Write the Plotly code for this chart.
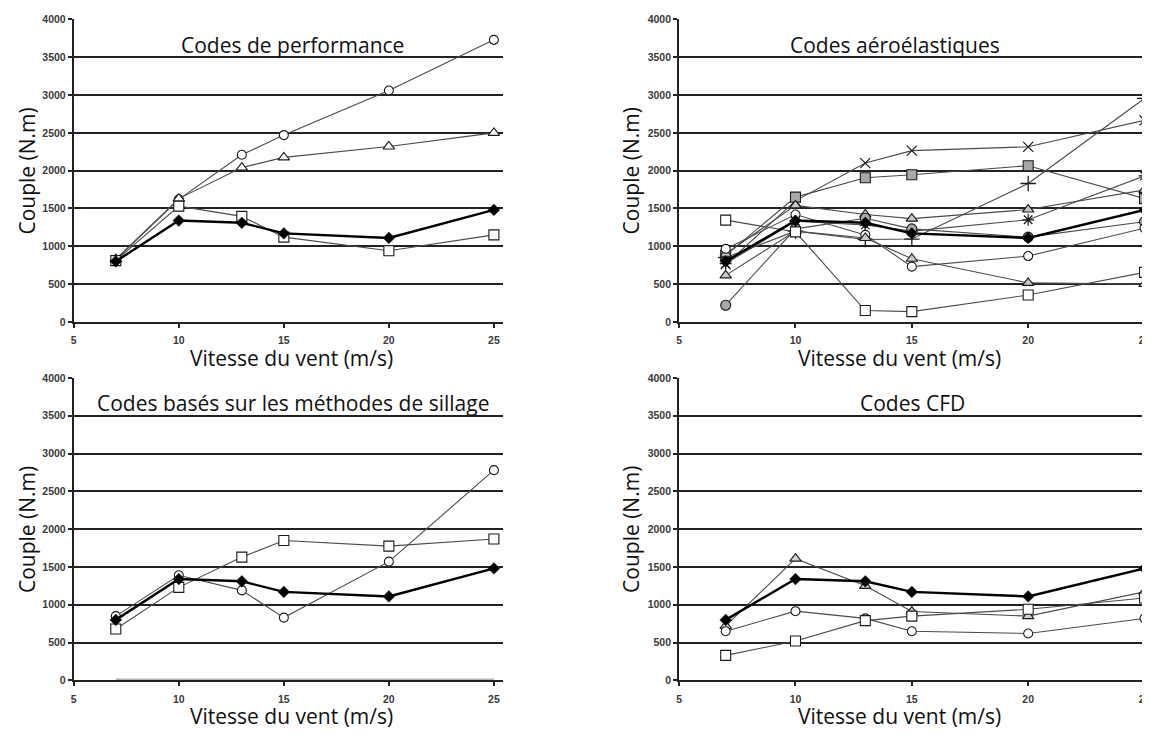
import plotly.graph_objects as go

# ---------------- data ----------------
wind = [7, 10, 13, 15, 20, 25]
tick_x = [5, 10, 15, 20, 25]
tick_y = [0, 500, 1000, 1500, 2000, 2500, 3000, 3500, 4000]

measured = [800, 1340, 1310, 1170, 1110, 1480]

# Codes de performance
perf_circle = [820, 1620, 2210, 2470, 3060, 3730]
perf_triangle = [830, 1630, 2040, 2175, 2320, 2500]
perf_square = [810, 1530, 1395, 1120, 940, 1150]

# Codes aéroélastiques
aero_x = [760, 1600, 2100, 2265, 2315, 2665]
aero_gray_square = [880, 1650, 1905, 1945, 2065, 1630]
aero_plus = [850, 1200, 1090, 1095, 1830, 2955]
aero_star = [770, 1330, 1280, 1200, 1350, 1930]
aero_triangle_high = [900, 1540, 1420, 1365, 1485, 1745]
aero_gray_circle = [220, 1230, 1370, 1230, 1120, 1325]
aero_circle = [965, 1420, 1150, 730, 870, 1240]
aero_triangle_low = [615, 1200, 1110, 835, 515, 500]
aero_square = [1345, 1190, 150, 135, 355, 655]

# Codes basés sur les méthodes de sillage
wake_circle = [850, 1390, 1190, 830, 1570, 2780]
wake_square = [680, 1230, 1630, 1850, 1775, 1870]
wake_zero = [12, 12, 12, 12, 12, 12]

# Codes CFD
cfd_triangle = [720, 1610, 1250, 910, 850, 1170]
cfd_circle = [650, 915, 820, 650, 620, 820]
cfd_square = [330, 520, 790, 850, 940, 1090]

panel_titles = ["Codes de performance", "Codes aéroélastiques",
                "Codes basés sur les méthodes de sillage", "Codes CFD"]
x_title = "Vitesse du vent (m/s)"
y_title = "Couple (N.m)"

# ---------------- layout geometry (page pixels) ----------------
OFF = 8                      # default page body margin
W, H = 1150 - OFF, 738 - OFF  # figure size so the page fits the window

LEFT = dict(x0=71.0, per_unit=21.08, x1=502.0)
RIGHT = dict(x0=678.5, per_unit=23.35, x1=1150.0)
TOP = dict(y4000=13.5, y0=321.0)
BOT = dict(y4000=378.0, y0=685.5)

def px_x(p):
    return (p - OFF) / W

def px_y(p):
    return (H - (p - OFF)) / H

panels = [
    dict(h=LEFT, v=TOP, title_x=290, title_y=40, xt_x=289, xt_y=358, yt_x=24),
    dict(h=RIGHT, v=TOP, title_x=895, title_y=40, xt_x=900, xt_y=358, yt_x=630),
    dict(h=LEFT, v=BOT, title_x=291, title_y=403, xt_x=289, xt_y=722, yt_x=24),
    dict(h=RIGHT, v=BOT, title_x=913, title_y=403, xt_x=900, xt_y=722, yt_x=630),
]

fig = go.Figure()

LINE_COL = "#4a4a4a"
EDGE = "#1a1a1a"

def add_series(k, ys, symbol, fill="white", size=9, lw=1.1, lcol=LINE_COL,
               mlw=1.1, mode="lines+markers"):
    xa = "x" if k == 1 else f"x{k}"
    ya = "y" if k == 1 else f"y{k}"
    fig.add_trace(go.Scatter(
        x=wind, y=ys, xaxis=xa, yaxis=ya, mode=mode,
        line=dict(color=lcol, width=lw),
        marker=dict(symbol=symbol, size=size, color=fill,
                    line=dict(color=EDGE, width=mlw)),
        showlegend=False, hoverinfo="skip"))

def add_measured(k):
    add_series(k, measured, "diamond", fill="#000000", size=9, lw=2.4,
               lcol="#000000", mlw=0.5)

# Panel 1
add_series(1, perf_circle, "circle", size=9)
add_series(1, perf_triangle, "triangle-up", size=10)
add_series(1, perf_square, "square", size=10)
add_measured(1)

# Panel 2
add_series(2, aero_x, "x-thin", size=10, mlw=1.2)
add_series(2, aero_gray_square, "square", fill="#a8a8a8", size=10)
add_series(2, aero_plus, "cross-thin", size=11, mlw=1.3)
add_series(2, aero_star, "asterisk", size=10, mlw=1.2)
add_series(2, aero_triangle_high, "triangle-up", fill="#c8c8c8", size=10)
add_series(2, aero_gray_circle, "circle", fill="#a8a8a8", size=10)
add_series(2, aero_circle, "circle", size=9)
add_series(2, aero_triangle_low, "triangle-up", fill="#c8c8c8", size=10)
add_series(2, aero_square, "square", size=10)
add_measured(2)

# Panel 3
add_series(3, wake_zero, "circle", size=1, lw=2, lcol="#b4b4b4", mode="lines")
add_series(3, wake_square, "square", size=10)
add_series(3, wake_circle, "circle", size=9)
add_measured(3)

# Panel 4
add_series(4, cfd_triangle, "triangle-up", fill="#d0d0d0", size=10)
add_series(4, cfd_circle, "circle", size=9)
add_series(4, cfd_square, "square", size=10)
add_measured(4)

tick_font = dict(family="Liberation Sans, Arial, sans-serif", size=10.5,
                 color="#3a3a3a", weight="bold")
title_font = dict(family="Open Sans, sans-serif", size=21, color="#111111")

layout = dict(width=W, height=H, margin=dict(l=0, r=0, t=0, b=0),
              paper_bgcolor="white", plot_bgcolor="white", showlegend=False)

annotations = []
for i, p in enumerate(panels):
    k = i + 1
    sx = "" if k == 1 else str(k)
    h, v = p["h"], p["v"]
    xmax = 5 + (h["x1"] - h["x0"]) / h["per_unit"]
    layout[f"xaxis{sx}"] = dict(
        domain=[px_x(h["x0"]), min(1.0, px_x(h["x1"]))], range=[5, xmax],
        anchor=f"y{sx}",
        tickvals=tick_x, ticktext=[str(t) for t in tick_x],
        showline=True, linecolor="#222222", linewidth=2,
        ticks="outside", ticklen=4, tickwidth=1.5, tickcolor="#222222",
        showgrid=False, zeroline=False, tickfont=tick_font,
        ticklabelstandoff=4, ticklabeloverflow="allow", fixedrange=True)
    layout[f"yaxis{sx}"] = dict(
        domain=[px_y(v["y0"]), px_y(v["y4000"])], range=[0, 4000],
        anchor=f"x{sx}",
        tickvals=tick_y, ticktext=[str(t) for t in tick_y],
        showline=True, linecolor="#222222", linewidth=2,
        ticks="outside", ticklen=4, tickwidth=1.5, tickcolor="#222222",
        showgrid=True, gridcolor="#222222", gridwidth=1.8,
        zeroline=False, tickfont=tick_font, fixedrange=True)

    annotations.append(dict(text=panel_titles[i], x=px_x(p["title_x"]), y=px_y(p["title_y"]),
                            xref="paper", yref="paper", showarrow=False,
                            xanchor="center", yanchor="middle", font=title_font))
    annotations.append(dict(text=x_title, x=px_x(p["xt_x"]), y=px_y(p["xt_y"]),
                            xref="paper", yref="paper", showarrow=False,
                            xanchor="center", yanchor="middle", font=title_font))
    annotations.append(dict(text=y_title, x=px_x(p["yt_x"]),
                            y=px_y((v["y4000"] + v["y0"]) / 2),
                            xref="paper", yref="paper", showarrow=False, textangle=-90,
                            xanchor="center", yanchor="middle", font=title_font))

layout["annotations"] = annotations
fig.update_layout(**layout)
fig.write_html("out.html")
